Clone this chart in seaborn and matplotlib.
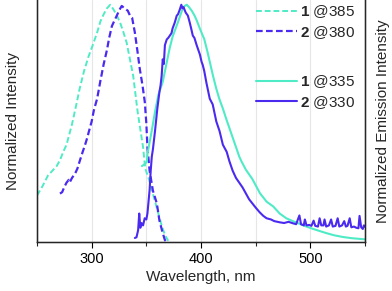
import numpy as np
import seaborn as sns
import matplotlib
matplotlib.use("Agg")
import matplotlib.pyplot as plt

# excitation spectra (dashed)
exc1_wl = [250, 255, 260, 265, 268, 271, 274, 277, 282, 286, 289, 293, 297, 301, 305, 308,
           311, 314, 317, 320, 323, 326, 329, 332, 335, 338, 340, 342, 345, 347, 349, 352,
           355, 358, 361, 364, 367, 370]
exc1_int = [0.196, 0.235, 0.28, 0.305, 0.32, 0.345, 0.38, 0.41, 0.496, 0.58, 0.646, 0.72, 0.78,
            0.83, 0.883, 0.93, 0.96, 0.985, 1.0, 0.98, 0.955, 0.925, 0.885, 0.84, 0.77, 0.70,
            0.625, 0.55, 0.46, 0.40, 0.31, 0.27, 0.22, 0.17, 0.12, 0.07, 0.03, 0.005]

exc2_wl = [271, 273, 275, 277, 279, 280, 282, 285, 287, 289, 292, 294, 296, 298, 300, 302,
           305, 308, 311, 314, 316, 318.5, 321, 323, 325, 327.5, 330, 333, 335, 337, 339.5,
           342, 344, 346.5, 348.6, 350, 351, 353, 356, 359.6, 362, 365, 367, 368.7]
exc2_int = [0.204, 0.21, 0.232, 0.25, 0.262, 0.252, 0.27, 0.29, 0.31, 0.34, 0.383, 0.41, 0.44,
            0.475, 0.508, 0.555, 0.604, 0.68, 0.75, 0.81, 0.86, 0.91, 0.935, 0.954, 0.975,
            0.995, 0.985, 0.975, 0.955, 0.945, 0.883, 0.80, 0.73, 0.66, 0.59, 0.50, 0.40,
            0.30, 0.217, 0.1625, 0.09, 0.0375, 0.008, 0.0]

# emission spectra (solid)
em1_wl = [346, 349, 350.5, 351, 352, 355, 358, 361, 365, 368.7, 371.5, 374, 376, 378.8, 381,
          383, 385, 387, 389, 391.5, 394, 396, 398.5, 400.7, 403, 406, 408, 411, 414, 417,
          420, 423, 426, 429, 432, 435, 437, 441, 447, 454, 460, 466, 472, 478, 484, 490,
          496, 502, 508, 515, 522, 530, 538, 548, 550]
em1_int = [0.32, 0.33, 0.34, 0.37, 0.396, 0.47, 0.55, 0.62, 0.675, 0.758, 0.82, 0.865, 0.89,
           0.925, 0.955, 0.98, 0.995, 1.0, 0.99, 0.975, 0.955, 0.935, 0.905, 0.88, 0.855,
           0.80, 0.76, 0.70, 0.646, 0.60, 0.5625, 0.52, 0.48, 0.44, 0.40, 0.36, 0.34, 0.305,
           0.265, 0.205, 0.17, 0.15, 0.12, 0.10, 0.088, 0.077, 0.066, 0.056, 0.047, 0.037,
           0.028, 0.021, 0.016, 0.012, 0.011]

em2_wl = [339.5, 341, 342.5, 343.5, 344.5, 345.5, 347, 348.5, 350, 351, 352, 353, 354, 355,
          356, 358, 360, 362, 363, 364, 365, 366, 367, 368.7, 370, 371.5, 373, 374, 376,
          377.8, 379, 380.6, 382, 383, 384, 386, 388, 389.7, 391, 392.5, 394, 396, 397.5,
          399, 400.5, 401.6, 403, 405, 408, 410.7, 414, 417, 420, 423.5, 426, 429, 432, 435,
          438, 441, 444, 447, 450, 453.7, 457, 460, 464, 467, 472, 476, 480, 484, 487, 490,
          491.5, 494, 495, 496.5, 499, 501, 503, 504.5, 507, 508.5, 510, 512, 513, 514.5,
          517, 519, 520.5, 523, 525, 526.5, 529, 531, 532.5, 534, 536, 537.5, 540, 542, 544,
          545, 546.5, 548, 549, 550]
em2_int = [0.017, 0.02, 0.05, 0.12, 0.06, 0.08, 0.07, 0.10, 0.095, 0.12, 0.17, 0.22, 0.30,
           0.36, 0.39, 0.47, 0.56, 0.633, 0.66, 0.70, 0.77, 0.75, 0.83, 0.854, 0.86, 0.87,
           0.88, 0.90, 0.925, 0.954, 0.96, 0.98, 1.0, 0.985, 0.99, 0.967, 0.954, 0.925, 0.90,
           0.87, 0.86, 0.83, 0.81, 0.79, 0.76, 0.746, 0.72, 0.67, 0.604, 0.58, 0.508, 0.467,
           0.41, 0.38, 0.34, 0.30, 0.27, 0.25, 0.23, 0.205, 0.18, 0.1625, 0.145, 0.125, 0.11,
           0.10, 0.095, 0.088, 0.083, 0.08, 0.085, 0.079, 0.075, 0.112, 0.075, 0.07, 0.095,
           0.07, 0.072, 0.068, 0.09, 0.068, 0.065, 0.10, 0.07, 0.07, 0.095, 0.065, 0.07,
           0.095, 0.065, 0.068, 0.10, 0.065, 0.07, 0.088, 0.065, 0.068, 0.10, 0.062, 0.065,
           0.06, 0.058, 0.11, 0.062, 0.055, 0.07, 0.065]

labels_exc = [r"$\mathbf{1}$ @385", r"$\mathbf{2}$ @380"]
labels_em = [r"$\mathbf{1}$ @335", r"$\mathbf{2}$ @330"]

c_turq = "#4FEBC6"
c_blue = "#4B2AF0"

sns.set_style("white")
plt.rcParams["font.family"] = ["Liberation Sans", "DejaVu Sans"]
plt.rcParams["mathtext.fontset"] = "custom"
plt.rcParams["mathtext.rm"] = "Liberation Sans"
plt.rcParams["mathtext.bf"] = "Liberation Sans:bold"

fig = plt.figure(figsize=(3.92, 2.91), dpi=100)
ax = fig.add_axes([37 / 392, 1 - 242 / 291, (365 - 37) / 392, 242 / 291])

dash = (0, (3, 1.5))
sns.lineplot(x=exc1_wl, y=exc1_int, ax=ax, color=c_turq, lw=1.4, linestyle=dash)
sns.lineplot(x=exc2_wl, y=exc2_int, ax=ax, color=c_blue, lw=1.6, linestyle=dash)
sns.lineplot(x=em1_wl, y=em1_int, ax=ax, color=c_turq, lw=1.5)
sns.lineplot(x=em2_wl, y=em2_int, ax=ax, color=c_blue, lw=1.5)
lines = ax.get_lines()

ax.set_xlim(250, 550)
ax.set_ylim(0, 1.02)
ax.set_xticks([300, 400, 500])
ax.set_xticks([250, 350, 450, 550], minor=True)
ax.set_yticks([])
ax.grid(True, axis="x", which="both", color="#e6e6e6", lw=0.8)
ax.set_axisbelow(True)
ax.tick_params(axis="x", which="major", direction="out", length=4, width=0.8,
               labelsize=10.5, bottom=True, colors="black", pad=3)
ax.tick_params(axis="x", which="minor", direction="out", length=3, width=0.8, bottom=True)
for s in ["left", "bottom", "right"]:
    ax.spines[s].set_color("black")
    ax.spines[s].set_linewidth(1.0)
ax.spines["top"].set_visible(False)

ax.set_xlabel("Wavelength, nm", fontsize=11, labelpad=3)
ax.set_ylabel("Normalized Intensity", fontsize=11, labelpad=12)

ax2 = ax.twinx()
ax2.set_yticks([])
ax2.spines["top"].set_visible(False)
ax2.set_ylabel("Normalized Emission Intensity", fontsize=11, labelpad=8)

leg_kw = dict(loc="upper left", frameon=False, fontsize=11, handlelength=2.7,
              handletextpad=0.15, labelspacing=0.25, borderpad=0, borderaxespad=0)
fig.legend(lines[0:2], labels_exc, bbox_to_anchor=(256 / 392, 1 - 3 / 291), **leg_kw)
fig.legend(lines[2:4], labels_em, bbox_to_anchor=(256 / 392, 1 - 73 / 291), **leg_kw)

fig.savefig("out.png", dpi=100)
